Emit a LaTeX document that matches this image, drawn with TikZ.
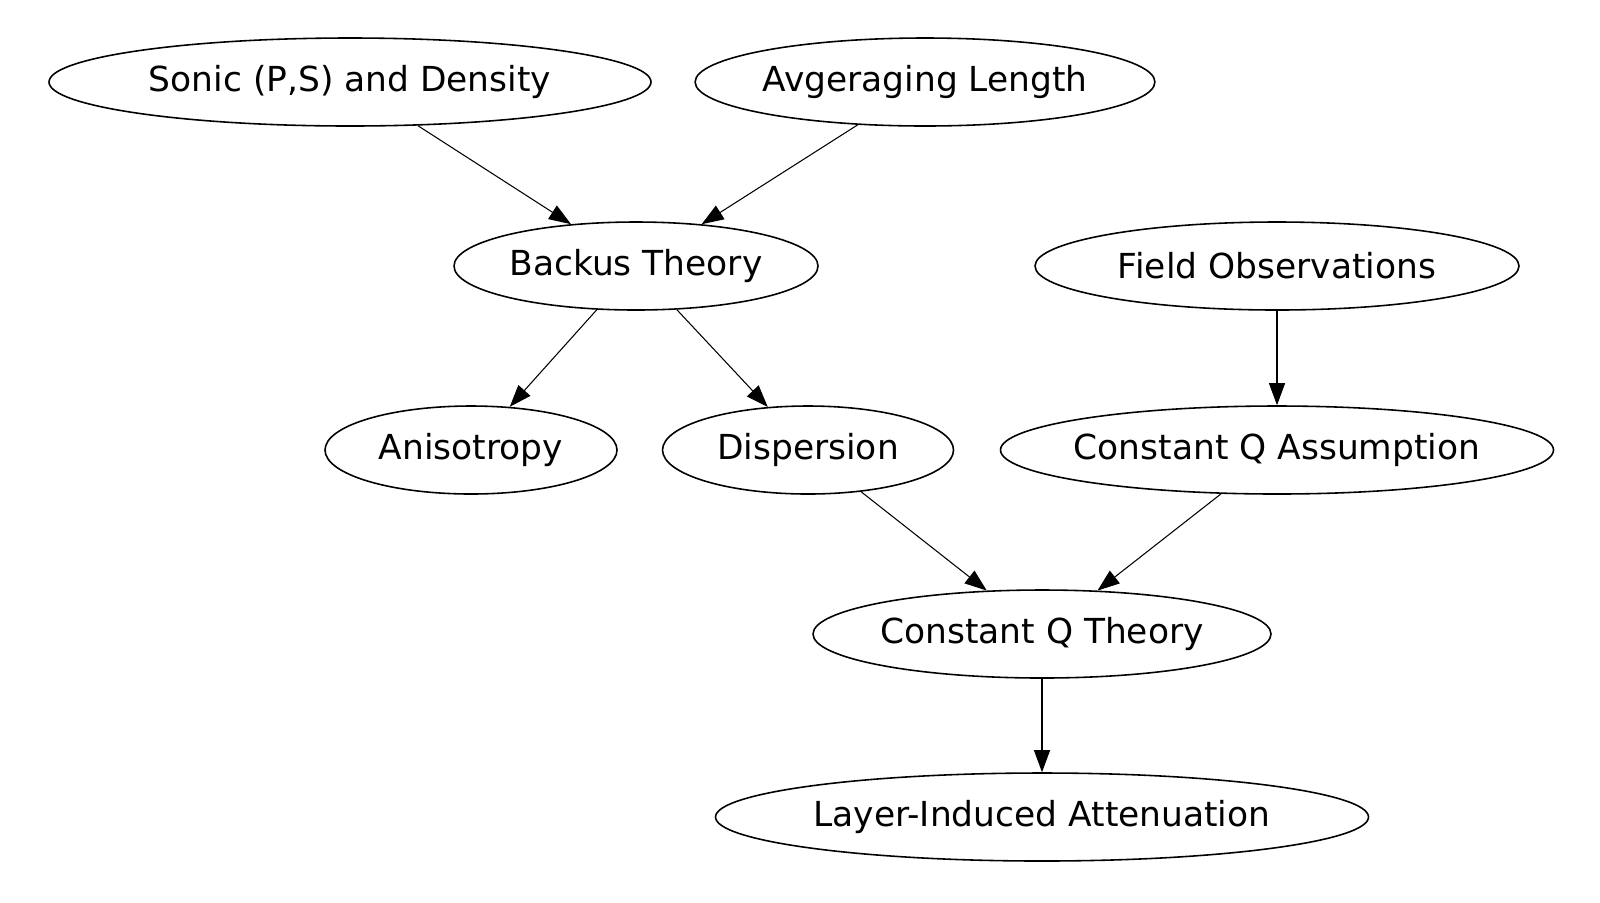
\documentclass[tikz,border=0pt]{standalone}
\usepackage{fontspec}
\setmainfont{DejaVu Sans}
\usetikzlibrary{shapes.geometric,arrows.meta}
\tikzset{
  topic/.style={draw,ellipse,line width=0.45pt,inner sep=0pt,minimum height=0.88cm,
    font=\fontsize{9.8}{12}\selectfont},
  link/.style={line width=0.3pt,-{Triangle[length=0.22cm,width=0.16cm]}}
}
\begin{document}
\begin{tikzpicture}
  \useasboundingbox (0,0) rectangle (16,9.02);
  \node[topic,minimum width=6.02cm] (sonic) at (3.50,8.20) {Sonic (P,S) and Density};
  \node[topic,minimum width=4.57cm] (avg) at (9.25,8.20) {Avgeraging Length};
  \node[topic,minimum width=3.64cm] (backus) at (6.36,6.36) {Backus Theory};
  \node[topic,minimum width=4.84cm] (field) at (12.77,6.36) {Field Observations};
  \node[topic,minimum width=2.92cm] (aniso) at (4.71,4.52) {Anisotropy};
  \node[topic,minimum width=2.91cm] (disp) at (8.08,4.52) {Dispersion};
  \node[topic,minimum width=5.53cm,inner xsep=-0.12cm] (cqa) at (12.77,4.52) {Constant Q Assumption};
  \node[topic,minimum width=4.58cm] (cqt) at (10.42,2.68) {Constant Q Theory};
  \node[topic,minimum width=6.53cm] (lia) at (10.42,0.85) {Layer-Induced Attenuation};

  \draw[link] (sonic) -- (backus);
  \draw[link] (avg) -- (backus);
  \draw[link] (backus) -- (aniso);
  \draw[link] (backus) -- (disp);
  \draw[link] (field) -- (cqa);
  \draw[link] (disp) -- (cqt);
  \draw[link] (cqa) -- (cqt);
  \draw[link] (cqt) -- (lia);
%\draw (cqt) -- (field);
\end{tikzpicture}
\end{document}
